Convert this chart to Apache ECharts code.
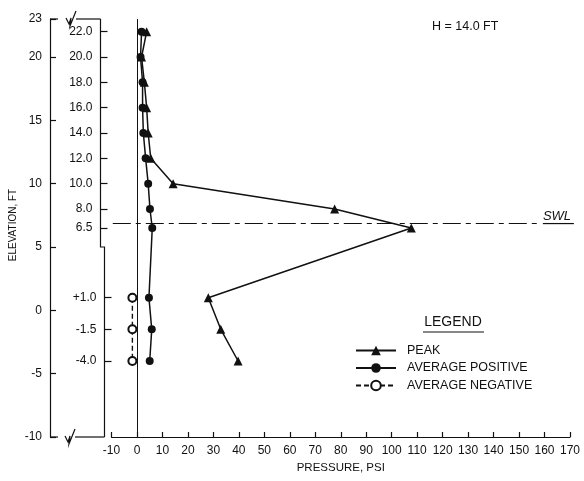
<!DOCTYPE html>
<html><head><meta charset="utf-8">
<script src="https://cdn.jsdelivr.net/npm/echarts@6/dist/echarts.min.js"></script>
<style>html,body{margin:0;padding:0;background:#fff}#c{width:584px;height:481px}</style>
</head><body><div id="c"></div>
<script>
// ---- data ----
const gaugeElevations = [22.0, 20.0, 18.0, 16.0, 14.0, 12.0, 10.0, 8.0, 6.5, 1.0, -1.5, -4.0];
const peakPressure = [3.8, 1.8, 2.9, 3.8, 4.4, 5.4, 14.2, 77.6, 107.7, 28.0, 32.9, 39.7];
const avgPositivePressure = [1.8, 1.4, 2.2, 2.2, 2.5, 3.4, 4.4, 5.1, 6.0, 4.7, 5.8, 5.0];
const negativeElevations = [1.0, -1.5, -4.0];
const avgNegativePressure = [-1.8, -1.8, -1.8];
const elevationTicks = [23, 20, 15, 10, 5, 0, -5, -10];
const upperGaugeTicks = [22.0, 20.0, 18.0, 16.0, 14.0, 12.0, 10.0, 8.0, 6.5];
const lowerGaugeTicks = [1.0, -1.5, -4.0];
const swlElevation = 6.85;
const swlEndPressure = 157;
const seriesNames = ['PEAK', 'AVERAGE POSITIVE', 'AVERAGE NEGATIVE'];

const FONT = '"Liberation Sans", Arial, Helvetica, sans-serif';
const INK = '#111';
const gridLeft = 111.5, gridTop = 19, gridRight = 14, gridBottom = 44;
const outerAxisX = 50, innerUpperX = 100.5, innerLowerX = 104.5;

const pairs = (xs, ys) => xs.map((x, i) => [x, ys[i]]);
const lbl = {fontFamily: FONT, fontSize: 12, color: INK};

const chart = echarts.init(document.getElementById('c'), null, {renderer: 'canvas'});
const option = {
  backgroundColor: '#fff',
  animation: false,
  grid: {left: gridLeft, top: gridTop, right: gridRight, bottom: gridBottom},
  xAxis: {
    type: 'value', min: -10, max: 170, interval: 10,
    axisLine: {show: true, onZero: false, lineStyle: {color: INK, width: 1.2}},
    axisTick: {show: true, inside: true, length: 5, lineStyle: {color: INK, width: 1.2}},
    axisLabel: Object.assign({margin: 8}, lbl),
    splitLine: {show: false},
    name: 'PRESSURE, PSI', nameLocation: 'middle', nameGap: 23,
    nameTextStyle: {fontFamily: FONT, fontSize: 11.5, color: INK}
  },
  yAxis: [
    {
      type: 'value', min: -10, max: 23, position: 'left', offset: gridLeft - outerAxisX,
      axisLine: {show: true, onZero: false, lineStyle: {color: INK, width: 1.2}},
      axisTick: {show: true, inside: true, length: 6, customValues: elevationTicks, lineStyle: {color: INK, width: 1.2}},
      axisLabel: Object.assign({margin: 8, customValues: elevationTicks}, lbl),
      splitLine: {show: false}
    },
    {
      type: 'value', min: -10, max: 23, position: 'left', offset: gridLeft - innerUpperX,
      axisLine: {show: false, onZero: false},
      axisTick: {show: true, inside: true, length: 7, customValues: upperGaugeTicks, lineStyle: {color: INK, width: 1.2}},
      axisLabel: Object.assign({margin: 8, customValues: upperGaugeTicks, formatter: v => v.toFixed(1)}, lbl),
      splitLine: {show: false}
    },
    {
      type: 'value', min: -10, max: 23, position: 'left', offset: gridLeft - innerLowerX,
      axisLine: {show: false, onZero: false},
      axisTick: {show: true, inside: true, length: 7, customValues: lowerGaugeTicks, lineStyle: {color: INK, width: 1.2}},
      axisLabel: Object.assign({margin: 8, customValues: lowerGaugeTicks, formatter: v => (v > 0 ? '+' : '') + v.toFixed(1)}, lbl),
      splitLine: {show: false}
    }
  ],
  legend: {
    data: seriesNames, orient: 'vertical', left: 350, top: 339,
    itemWidth: 40, itemHeight: 12, itemGap: 4.5,
    textStyle: {fontFamily: FONT, fontSize: 12.5, color: INK, padding: [0, 0, 0, 6]}
  },
  series: [
    {
      name: seriesNames[0], type: 'line', data: pairs(peakPressure, gaugeElevations),
      symbol: 'triangle', symbolSize: 9, z: 3,
      itemStyle: {color: INK}, lineStyle: {color: INK, width: 1.5}
    },
    {
      name: seriesNames[1], type: 'line', data: pairs(avgPositivePressure, gaugeElevations),
      symbol: 'circle', symbolSize: 8, z: 4,
      itemStyle: {color: INK}, lineStyle: {color: INK, width: 1.5}
    },
    {
      name: seriesNames[2], type: 'line', data: pairs(avgNegativePressure, negativeElevations),
      symbol: 'emptyCircle', symbolSize: 8, z: 4,
      itemStyle: {color: INK, borderColor: INK, borderWidth: 1.2},
      lineStyle: {color: INK, width: 1.4, type: [5, 3]},
      markLine: {
        silent: true, symbol: ['none', 'none'], label: {show: false}, animation: false,
        data: [
          {xAxis: 0, lineStyle: {color: INK, width: 1, type: 'solid'}},
          [{coord: [-9.5, swlElevation], lineStyle: {color: INK, width: 1.2, type: [18, 5, 5, 5]}},
           {coord: [swlEndPressure, swlElevation]}]
        ]
      }
    }
  ]
};
chart.setOption(option);

// decorations positioned through the axes' own scales
const py = v => chart.convertToPixel({yAxisIndex: 0}, v);
const px = v => chart.convertToPixel({xAxisIndex: 0}, v);
const yTop = py(23), yBot = py(-10), yStep = py(5), ySwl = py(swlElevation);
const lineSty = {stroke: INK, lineWidth: 1.2, fill: null};
function breakMark(x, y) {
  return {type: 'polyline', shape: {points: [[x - 5, y - 1], [x - 2, y + 5], [x, y - 1], [x - 1, y + 7], [x + 5, y - 8]]}, style: lineSty};
}
const swlX = px(swlEndPressure) + 6;
chart.setOption({
  graphic: [
    {type: 'polyline', shape: {points: [[innerUpperX, yTop], [innerUpperX, yStep], [innerLowerX, yStep], [innerLowerX, yBot]]}, style: lineSty},
    {type: 'line', shape: {x1: outerAxisX, y1: yTop, x2: 58, y2: yTop}, style: lineSty},
    {type: 'line', shape: {x1: 76, y1: yTop, x2: innerUpperX, y2: yTop}, style: lineSty},
    breakMark(71, yTop),
    {type: 'line', shape: {x1: outerAxisX, y1: yBot, x2: 58, y2: yBot}, style: lineSty},
    {type: 'line', shape: {x1: 75, y1: yBot, x2: innerLowerX, y2: yBot}, style: lineSty},
    breakMark(70, yBot),
    {type: 'text', x: 13, y: 225, rotation: Math.PI / 2,
     style: {text: 'ELEVATION, FT', fontFamily: FONT, fontSize: 10, fill: INK, align: 'center', verticalAlign: 'middle'}},
    {type: 'text', x: 432, y: 27,
     style: {text: 'H = 14.0 FT', fontFamily: FONT, fontSize: 12.5, fill: INK, align: 'left', verticalAlign: 'middle'}},
    {type: 'text', x: 453, y: 322,
     style: {text: 'LEGEND', fontFamily: FONT, fontSize: 14, fill: INK, align: 'center', verticalAlign: 'middle'}},
    {type: 'line', shape: {x1: 423, y1: 332, x2: 484, y2: 332}, style: lineSty},
    {type: 'text', x: swlX, y: ySwl - 1,
     style: {text: 'SWL', fontFamily: FONT, fontSize: 13, fontStyle: 'italic', fill: INK, align: 'left', verticalAlign: 'bottom'}},
    {type: 'line', shape: {x1: swlX, y1: ySwl, x2: swlX + 31, y2: ySwl}, style: lineSty}
  ]
});
</script>
</body></html>
